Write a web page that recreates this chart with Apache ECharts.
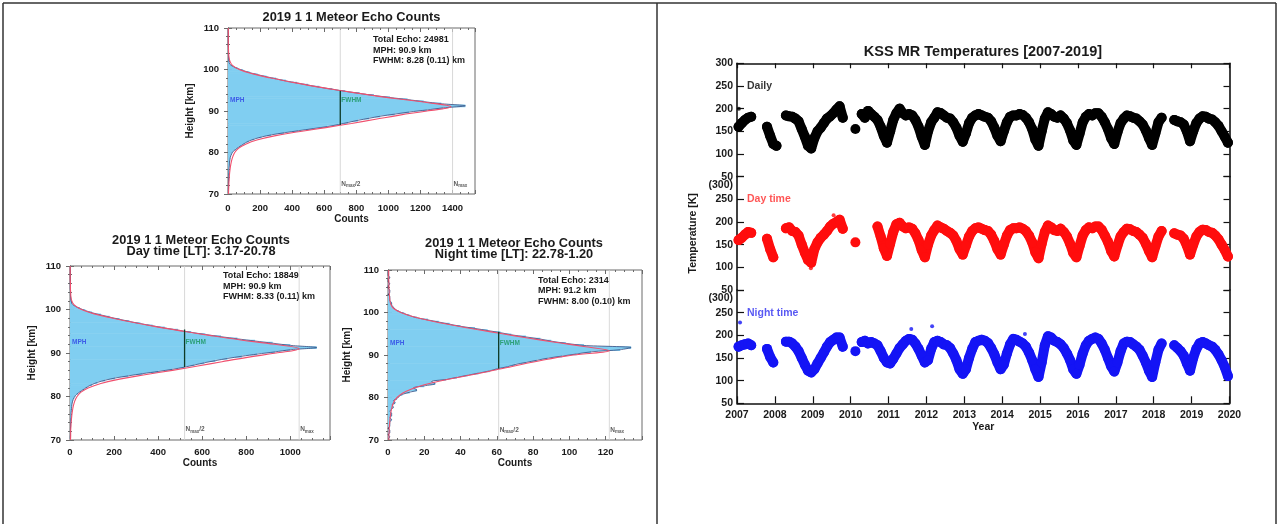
<!DOCTYPE html>
<html>
<head>
<meta charset="utf-8">
<script src="https://cdn.jsdelivr.net/npm/echarts@6/dist/echarts.min.js"></script>
<style>
  html, body { margin: 0; padding: 0; background: #ffffff; }
  #main { width: 1278px; height: 524px; }
</style>
</head>
<body>
<div id="main"></div>
<script>
// ---------- Meteor echo height profiles (0.5 km bins, lower bin edge in km) ----------
const binWidthKm = 0.5;
const binHeights = [70,70.5,71,71.5,72,72.5,73,73.5,74,74.5,75,75.5,76,76.5,77,77.5,78,78.5,79,79.5,
  80,80.5,81,81.5,82,82.5,83,83.5,84,84.5,85,85.5,86,86.5,87,87.5,88,88.5,89,89.5,
  90,90.5,91,91.5,92,92.5,93,93.5,94,94.5,95,95.5,96,96.5,97,97.5,98,98.5,99,99.5,
  100,100.5,101,101.5,102,102.5,103,103.5,104,104.5,105,105.5,106,106.5,107,107.5,108,108.5,109,109.5];

const countsAll = [2,2,2,3,3,3,4,4,5,5, 6,6,7,8,9,10,12,14,18,24,
  32,48,65,85,105,130,165,210,270,350, 440,530,620,690,750,810,880,950,1040,1130,
  1240,1340,1480,1330,1220,1120,1010,910,820,730, 650,570,500,430,360,300,240,185,135,95,
  60,30,12,7,5,4,3,3,2,2, 2,1,1,1,1,1,1,1,1,1];
const countsDay = [1,1,2,2,2,2,3,3,4,4, 5,5,5,6,7,8,9,11,14,19,
  25,36,50,65,80,100,125,160,205,265, 330,400,465,520,565,610,660,715,780,850,
  930,1000,1120,1000,920,840,760,685,615,550, 490,430,375,320,270,225,180,140,100,70,
  45,24,10,6,4,3,2,2,2,1, 1,1,1,1,1,1,1,1,1,1];
const countsNight = [0,1,0,1,1,0,1,1,1,2, 1,2,2,1,2,3,2,4,3,5,
  6,8,12,16,14,20,26,24,32,38, 44,50,56,60,66,70,76,82,88,96,
  104,112,128,134,108,98,90,84,76,68, 62,55,48,40,34,28,22,16,12,9,
  6,4,3,2,2,1,1,1,0,1, 1,0,0,1,0,0,1,0,0,0];

// fitted profiles, 1 km steps
const fitHeights = [70,71,72,73,74,75,76,77,78,79,80,81,82,83,84,85,86,87,88,89,90,
  91,92,93,94,95,96,97,98,99,100,101,102,103,104,105,106,107,108,109,110];
const fitAll = [3,4,5,6,8,10,13,17,22,30, 42,65,110,180,290,440,610,770,920,1070,
  1240,1390,1250,1040,860,690,530,390,260,150, 70,28,12,6,4,3,2,2,2,2, 2];
const fitDay = [2,3,3,4,5,7,9,12,16,22, 32,50,85,140,225,340,465,580,690,805,
  935,1040,930,775,640,515,395,290,195,110, 52,20,8,4,3,2,2,1,1,1, 1];
const fitNight = [0.5,0.5,0.6,0.7,0.9,1.1,1.4,1.8,2.4,3.3, 5,8,13,20,30,42,54,65,76,88,
  102,122,108,92,77,63,49,36,24,14, 7,3,1.5,1,0.8,0.6,0.5,0.5,0.4,0.4, 0.4];

const profileTitles = [
  ['2019 1 1 Meteor Echo Counts'],
  ['2019 1 1 Meteor Echo Counts', 'Day time [LT]: 3.17-20.78'],
  ['2019 1 1 Meteor Echo Counts', 'Night time [LT]: 22.78-1.20']
];
const totalEcho = [24981, 18849, 2314];
const mphKm = [90.9, 90.9, 91.2];
const fwhmText = ['8.28 (0.11)', '8.33 (0.11)', '8.00 (0.10)'];
const nMax = [1400, 1040, 122];
const fwhmLowKm = [86.6, 86.8, 86.8];
const fwhmHighKm = [94.9, 95.4, 95.5];

// ---------- KSS MR temperatures, monthly means (K), Jan..Dec per year ----------
const years = [2007,2008,2009,2010,2011,2012,2013,2014,2015,2016,2017,2018,2019];
const dailyT = [
  160,168,175,180,182,null,null,null,null,160,140,122,
  118,null,null,185,183,182,178,172,155,138,118,112,
  135,150,158,168,178,183,190,198,205,180,null,null,
  null,155,null,188,180,195,188,182,175,160,140,125,
  150,175,190,200,190,185,188,185,175,160,138,120,
  150,170,180,192,190,185,180,178,170,158,140,127,
  145,168,180,185,188,185,182,180,172,158,140,128,
  150,170,182,185,185,188,186,180,170,155,132,118,
  150,178,192,188,182,180,185,178,168,152,130,120,
  145,170,182,188,185,190,190,182,170,155,135,122,
  148,168,178,185,183,180,178,172,165,152,135,120,
  145,170,180,null,null,null,175,172,170,165,150,128,
  150,168,178,183,182,178,176,170,162,150,138,125];
const dayT = [
  160,165,172,178,176,null,null,null,null,163,140,122,
  null,null,null,186,188,180,178,170,150,132,116,110,
  140,155,165,172,180,190,196,200,205,185,null,null,
  null,155,null,null,null,null,null,null,190,168,142,125,
  152,178,195,198,190,186,188,185,175,160,138,122,
  150,170,182,192,188,185,180,176,170,158,140,128,
  148,168,180,186,188,185,182,180,172,158,140,128,
  150,170,182,186,186,188,185,180,170,155,133,120,
  152,178,192,188,182,180,185,178,168,152,132,122,
  147,170,182,188,186,190,190,183,170,156,136,124,
  148,168,178,185,184,180,178,172,165,152,136,122,
  146,168,180,null,null,null,175,172,170,163,148,128,
  150,168,178,183,182,178,176,170,162,150,138,124];
const nightT = [
  175,178,180,182,178,null,null,null,null,170,152,140,
  null,null,null,186,186,182,175,165,150,135,122,118,
  125,138,150,162,175,185,190,195,195,175,null,null,
  null,165,null,185,188,182,185,182,178,165,150,140,
  138,148,160,172,180,188,192,190,182,170,155,140,
  145,170,185,188,185,180,178,172,160,145,125,115,
  125,150,170,185,188,190,188,183,172,158,140,125,
  135,160,180,192,190,186,182,175,162,145,125,108,
  140,178,198,195,188,185,180,172,160,145,125,115,
  135,160,178,188,192,195,192,182,168,150,132,120,
  140,165,182,186,185,180,175,168,155,140,122,108,
  140,168,182,null,null,null,178,172,165,155,138,122,
  150,170,182,185,182,178,175,168,158,145,130,110];
const dailyOutliers = [[2007.05, 200]];
const dayOutliers = [[2008.95, 98], [2009.55, 215]];
const nightOutliers = [[2007.08, 228], [2011.6, 214], [2012.15, 220], [2014.6, 203]];
const panelNames = ['Daily', 'Day time', 'Night time'];
const tempTicks = [50, 100, 150, 200, 250, 300];

// ---------- drawing ----------
const FONT = '"Liberation Sans", Arial, Helvetica, sans-serif';
const INK = '#1a1a1a';
const FRAME = '#6a6a6a';
const HIST_FILL = '#80cef1';
const FIT_RED = '#f0506e';
const EDGE_DARK = '#3a4a7e';

const chart = echarts.init(document.getElementById('main'), null, { renderer: 'canvas' });
const grids = [], xAxes = [], yAxes = [], series = [], graphics = [];
const plain = v => String(v);

function textEl(x, y, text, size, color, align, lineHeight, vAlign) {
  return { type: 'text', x: x, y: y, silent: true,
    style: { text: text, fill: color || INK, align: align || 'center', verticalAlign: vAlign || 'middle',
      fontFamily: FONT, fontSize: size, fontWeight: 'bold', lineHeight: lineHeight || size * 1.2 } };
}

function histPanel(k, p) {
  const counts = [countsAll, countsDay, countsNight][k];
  const fit = [fitAll, fitDay, fitNight][k];
  const gi = grids.length;
  grids.push({ left: p.left, top: p.top, width: p.width, height: p.height,
    show: true, borderColor: FRAME, borderWidth: 1 });
  const tickStyle = { color: FRAME, width: 1 };
  const xi = xAxes.length;
  xAxes.push({ gridIndex: gi, type: 'value', position: 'bottom', min: 0, max: p.xmax, interval: p.xint,
    axisLine: { show: false }, splitLine: { show: false },
    axisTick: { show: true, inside: true, length: 4, lineStyle: tickStyle },
    minorTick: { show: true, splitNumber: 4, length: 2, lineStyle: tickStyle },
    axisLabel: { show: true, showMaxLabel: false, formatter: plain, margin: p.xLabelMargin,
      color: INK, fontFamily: FONT, fontWeight: 'bold', fontSize: 9.5 },
    name: 'Counts', nameLocation: 'middle', nameGap: p.xNameGap,
    nameTextStyle: { color: INK, fontFamily: FONT, fontWeight: 'bold', fontSize: 10 } });
  xAxes.push({ gridIndex: gi, type: 'value', position: 'top', min: 0, max: p.xmax, interval: p.xint,
    axisLine: { show: false }, splitLine: { show: false },
    axisTick: { show: true, inside: true, length: 4, lineStyle: tickStyle },
    minorTick: { show: true, splitNumber: 4, length: 2, lineStyle: tickStyle },
    axisLabel: { show: false } });
  const yi = yAxes.length;
  yAxes.push({ gridIndex: gi, type: 'value', position: 'left', min: 70, max: 110, interval: 10,
    axisLine: { show: true, lineStyle: { color: '#333', width: 1 } }, splitLine: { show: false },
    axisTick: { show: true, inside: true, length: 4, lineStyle: tickStyle },
    minorTick: { show: true, splitNumber: 5, length: 2, lineStyle: tickStyle },
    axisLabel: { show: true, formatter: plain, margin: 9, color: INK, fontFamily: FONT, fontWeight: 'bold', fontSize: 9.5 },
    name: 'Height [km]', nameLocation: 'middle', nameGap: p.yNameGap, nameRotate: 90,
    nameTextStyle: { color: INK, fontFamily: FONT, fontWeight: 'bold', fontSize: 10 } });
  yAxes.push({ gridIndex: gi, type: 'value', position: 'right', min: 70, max: 110, interval: 10,
    axisLine: { show: false }, splitLine: { show: false },
    axisTick: { show: true, inside: true, length: 4, lineStyle: tickStyle },
    minorTick: { show: true, splitNumber: 5, length: 2, lineStyle: tickStyle },
    axisLabel: { show: false } });

  const half = nMax[k] / 2;
  // faint guides at N_max/2 and N_max
  [half, nMax[k]].forEach(v => series.push({ type: 'line', xAxisIndex: xi, yAxisIndex: yi, z: 0,
    data: [[v, 70], [v, 110]], showSymbol: false, silent: true,
    lineStyle: { color: '#cfcfcf', width: 0.8 } }));
  // histogram bars
  series.push({ type: 'custom', xAxisIndex: xi, yAxisIndex: yi, z: 1, silent: true,
    encode: { x: 1, y: 0 },
    data: binHeights.map((h, i) => [h, counts[i]]),
    renderItem: (params, api) => {
      const h = api.value(0), c = api.value(1);
      const a = api.coord([0, h]);
      const b = api.coord([c, h + binWidthKm]);
      return { type: 'rect', shape: { x: a[0], y: b[1] - 0.3, width: Math.max(0, b[0] - a[0]), height: a[1] - b[1] + 0.6 },
        style: { fill: HIST_FILL } };
    } });
  // smoothed profile edge
  series.push({ type: 'line', xAxisIndex: xi, yAxisIndex: yi, z: 2, silent: true, showSymbol: false,
    smooth: 0.3, data: binHeights.map((h, i) => [counts[i], h + binWidthKm / 2]),
    lineStyle: { color: EDGE_DARK, width: 0.8 } });
  // fitted profile
  series.push({ type: 'line', xAxisIndex: xi, yAxisIndex: yi, z: 3, silent: true, showSymbol: false,
    smooth: 0.4, data: fitHeights.map((h, i) => [fit[i], h]),
    lineStyle: { color: FIT_RED, width: 1.1 } });
  // FWHM bar
  series.push({ type: 'line', xAxisIndex: xi, yAxisIndex: yi, z: 4, silent: true, showSymbol: false,
    data: [[half, fwhmLowKm[k]], [half, fwhmHighKm[k]]],
    lineStyle: { color: '#0e3a26', width: 1.3 } });
  // in-plot annotations
  const tag = (pt, text, color, extra) => series.push({ type: 'scatter', xAxisIndex: xi, yAxisIndex: yi, z: 5,
    silent: true, symbolSize: 0, data: [pt],
    label: Object.assign({ show: true, position: 'right', distance: 1, formatter: text, color: color,
      fontFamily: FONT, fontWeight: 'bold', fontSize: 6.5 }, extra || {}) });
  tag([0, mphKm[k] + 1.6], 'MPH', '#2a3ee6', { distance: 2 });
  tag([half, mphKm[k] + 1.6], 'FWHM', '#16955a');
  const sub = { rich: { s: { fontSize: 4.5, fontFamily: FONT, fontWeight: 'bold', color: '#333', padding: [4, 0, 0, 0] } } };
  tag([half, 72.4], 'N{s|max}/2', '#333', sub);
  tag([nMax[k], 72.4], 'N{s|max}', '#333', sub);

  // titles and statistics text
  profileTitles[k].forEach((line, j) =>
    graphics.push(textEl(p.titleX, p.titleY + j * 11.3, line, 12.8, INK, 'center')));
  graphics.push(textEl(p.infoX, p.infoY,
    'Total Echo: ' + totalEcho[k] + '\nMPH: ' + mphKm[k].toFixed(1) + ' km\nFWHM: ' + fwhmText[k] + ' km',
    9, INK, 'left', 10.6, 'top'));
}

histPanel(0, { left: 228, top: 28, width: 247, height: 166, xmax: 1540, xint: 200,
  xLabelMargin: 9, xNameGap: 20, yNameGap: 33, titleX: 351.5, titleY: 17, infoX: 373, infoY: 34.5 });
histPanel(1, { left: 70, top: 266, width: 260, height: 174, xmax: 1180, xint: 200,
  xLabelMargin: 7, xNameGap: 18, yNameGap: 33, titleX: 201, titleY: 240, infoX: 223, infoY: 270.5 });
histPanel(2, { left: 388, top: 270, width: 254, height: 170, xmax: 140, xint: 20,
  xLabelMargin: 7, xNameGap: 18, yNameGap: 36, titleX: 514, titleY: 243, infoX: 538, infoY: 275 });

// ---------- temperature panels ----------
const plotLeft = 737, plotWidth = 492.5, plotTop = 63.3, panelH = 113.33;
const monthTimes = [];
years.forEach(y => { for (let m = 0; m < 12; m++) monthTimes.push(y + (m + 0.5) / 12); });
const tempSeries = [dailyT, dayT, nightT];
const tempOutliers = [dailyOutliers, dayOutliers, nightOutliers];
const tempColors = ['#000000', '#ff0d0d', '#1414f5'];
const labelColors = ['#000000', '#ff2a2a', '#2e2ef0'];
const AX = { color: '#111', width: 1.6 };

for (let p = 0; p < 3; p++) {
  const gi = grids.length;
  grids.push({ left: plotLeft, top: plotTop + p * panelH, width: plotWidth, height: panelH });
  const xi = xAxes.length;
  const isTop = p === 0, isBottom = p === 2;
  xAxes.push({ gridIndex: gi, type: 'value', position: isTop ? 'top' : 'bottom', min: 2007, max: 2020, interval: 1,
    axisLine: { show: isTop || isBottom, lineStyle: AX }, splitLine: { show: false },
    axisTick: { show: isTop || isBottom, inside: true, length: isTop ? 5 : 7, lineStyle: { color: '#111', width: 1.2 } },
    axisLabel: { show: isBottom, formatter: plain, margin: 6, color: INK, fontFamily: FONT, fontWeight: 'bold', fontSize: 10.5,
      showMinLabel: true, showMaxLabel: true },
    name: isBottom ? 'Year' : '', nameLocation: 'middle', nameGap: 18,
    nameTextStyle: { color: INK, fontFamily: FONT, fontWeight: 'bold', fontSize: 10.5 } });
  const yi = yAxes.length;
  yAxes.push({ gridIndex: gi, type: 'value', position: 'left', min: tempTicks[0], max: tempTicks[tempTicks.length - 1], interval: 50,
    axisLine: { show: true, lineStyle: AX }, splitLine: { show: false },
    axisTick: { show: true, inside: true, length: 7, lineStyle: { color: '#111', width: 1.2 } },
    axisLabel: { show: true, margin: 4, color: INK, fontFamily: FONT, fontWeight: 'bold', fontSize: 10.5,
      showMinLabel: true, showMaxLabel: true,
      formatter: v => (p > 0 && v === 300) ? '{q|(300)}' : String(v),
      rich: { q: { fontFamily: FONT, fontWeight: 'bold', fontSize: 10.5, color: INK, padding: [17, 0, 0, 0] } } },
    name: p === 1 ? 'Temperature [K]' : '', nameLocation: 'middle', nameGap: 38, nameRotate: 90,
    nameTextStyle: { color: INK, fontFamily: FONT, fontWeight: 'bold', fontSize: 10.5 } });
  yAxes.push({ gridIndex: gi, type: 'value', position: 'right', min: tempTicks[0], max: tempTicks[tempTicks.length - 1], interval: 50,
    axisLine: { show: true, lineStyle: AX }, splitLine: { show: false },
    axisTick: { show: true, inside: true, length: 6, lineStyle: { color: '#111', width: 1.2 } },
    axisLabel: { show: false } });

  series.push({ type: 'line', xAxisIndex: xi, yAxisIndex: yi, z: 3, silent: true, connectNulls: false,
    data: monthTimes.map((t, i) => [t, tempSeries[p][i]]),
    symbol: 'circle', symbolSize: 10, showSymbol: true,
    itemStyle: { color: tempColors[p] },
    lineStyle: { color: tempColors[p], width: 10, cap: 'round', join: 'round' } });
  series.push({ type: 'scatter', xAxisIndex: xi, yAxisIndex: yi, z: 3, silent: true,
    data: tempOutliers[p], symbolSize: 4, itemStyle: { color: tempColors[p] } });
  series.push({ type: 'scatter', xAxisIndex: xi, yAxisIndex: yi, z: 4, silent: true, symbolSize: 0,
    data: [[2007, 250]],
    label: { show: true, position: 'right', distance: 10, formatter: panelNames[p], color: labelColors[p],
      fontFamily: FONT, fontWeight: 'bold', fontSize: 10.5 } });
}
graphics.push(textEl(983, 52, 'KSS MR Temperatures [2007-2019]', 14.5, INK, 'center'));

// table frame around the two figures
const frame = { stroke: '#333', lineWidth: 1.5 };
[[3, 3, 1276, 3], [3, 3, 3, 524], [657, 3, 657, 524], [1276, 3, 1276, 524]].forEach(s =>
  graphics.push({ type: 'line', silent: true, shape: { x1: s[0], y1: s[1], x2: s[2], y2: s[3] }, style: frame }));

chart.setOption({
  animation: false,
  backgroundColor: '#ffffff',
  grid: grids,
  xAxis: xAxes,
  yAxis: yAxes,
  series: series,
  graphic: graphics
});
</script>
</body>
</html>
